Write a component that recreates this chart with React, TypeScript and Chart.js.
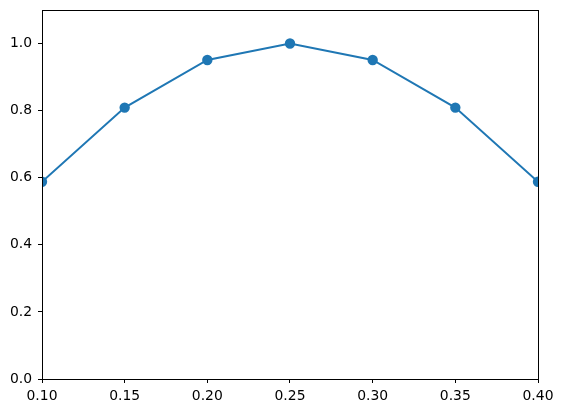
import React, { useEffect, useRef } from "react";
import { Chart, registerables } from "chart.js";

Chart.register(...registerables);

const xValues = [0.1, 0.15, 0.2, 0.25, 0.3, 0.35, 0.4];
const yValues = [0.588, 0.809, 0.951, 1.0, 0.951, 0.809, 0.588];
const xTicks = [0.1, 0.15, 0.2, 0.25, 0.3, 0.35, 0.4];
const yTicks = [0, 0.2, 0.4, 0.6, 0.8, 1.0];

const frame = {
  id: "frame",
  afterDraw(chart: any) {
    const { ctx, chartArea: a } = chart;
    ctx.save();
    ctx.strokeStyle = "#000";
    ctx.lineWidth = 1;
    ctx.strokeRect(Math.round(a.left) + 0.5, Math.round(a.top) + 0.5, Math.round(a.right - a.left), Math.round(a.bottom - a.top));
    ctx.restore();
  },
};

export default function App() {
  const ref = useRef<HTMLCanvasElement>(null);
  useEffect(() => {
    document.body.style.margin = "0";
    const font = { family: "DejaVu Sans", size: 13.9 };
    const chart = new Chart(ref.current!, {
      type: "scatter",
      data: {
        datasets: [
          {
            data: xValues.map((x, i) => ({ x, y: yValues[i] })),
            showLine: true,
            borderColor: "#1f77b4",
            backgroundColor: "#1f77b4",
            borderWidth: 2,
            pointRadius: 4.2,
            pointHoverRadius: 4.2,
            clip: 0,
          } as any,
        ],
      },
      options: {
        animation: false,
        responsive: false,
        devicePixelRatio: 1,
        layout: { padding: { top: 10, right: 25, left: 0, bottom: 0 } },
        plugins: { legend: { display: false }, tooltip: { enabled: false } },
        scales: {
          x: {
            type: "linear",
            min: 0.1,
            max: 0.4,
            afterBuildTicks: (s: any) => {
              s.ticks = xTicks.map((v) => ({ value: v }));
            },
            afterFit: (s: any) => {
              s.height = 34;
              s.paddingLeft = 0;
              s.paddingRight = 0;
            },
            grid: { display: true, drawOnChartArea: false, drawTicks: true, tickLength: 4, color: "#000" },
            border: { display: true, color: "#000" },
            ticks: { color: "#000", font, padding: 5, maxRotation: 0, callback: (v: any) => Number(v).toFixed(2) },
          },
          y: {
            type: "linear",
            min: 0,
            max: 1.1,
            afterBuildTicks: (s: any) => {
              s.ticks = yTicks.map((v) => ({ value: v }));
            },
            afterFit: (s: any) => {
              s.width = 42;
              s.paddingTop = 0;
              s.paddingBottom = 0;
            },
            grid: { display: true, drawOnChartArea: false, drawTicks: true, tickLength: 4, color: "#000" },
            border: { display: true, color: "#000" },
            ticks: { color: "#000", font, padding: 6, callback: (v: any) => Number(v).toFixed(1) },
          },
        },
      },
      plugins: [frame],
    });
    return () => chart.destroy();
  }, []);
  return (
    <div style={{ position: "absolute", left: 0, top: 0, width: 563, height: 413, background: "#fff" }}>
      <canvas ref={ref} width={563} height={413} style={{ width: 563, height: 413 }} />
    </div>
  );
}
